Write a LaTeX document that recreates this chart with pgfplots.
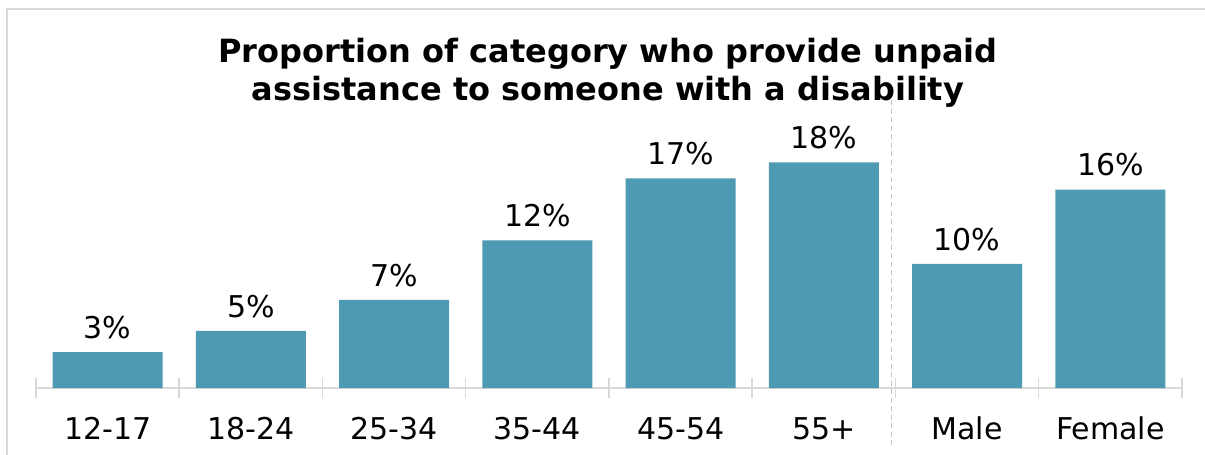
\documentclass[border=0pt]{standalone}
\usepackage{pgfplots}
\pgfplotsset{compat=1.18}
\usepackage{fontspec}
\setmainfont{DejaVu Sans}
\definecolor{barblue}{RGB}{78,154,178}
\definecolor{framegray}{RGB}{217,217,217}
\definecolor{dashgray}{RGB}{195,195,195}
\begin{document}
\begin{tikzpicture}
\useasboundingbox (0,0) rectangle (1205bp,455bp);
\draw[framegray, line width=2bp] (7bp,0) -- (7bp,446bp) -- (1205bp,446bp);
\node[anchor=base, inner sep=0pt, font=\fontsize{32bp}{38bp}\selectfont\bfseries] at (608bp,392bp) {Proportion of category who provide unpaid};
\node[anchor=base, inner sep=0pt, font=\fontsize{32bp}{38bp}\selectfont\bfseries] at (608bp,354bp) {assistance to someone with a disability};
\begin{axis}[
  at={(36bp,67bp)}, anchor=south west,
  scale only axis, width=1146bp, height=248bp,
  xmin=-0.5, xmax=7.5, ymin=0, ymax=20,
  clip=false,
  axis x line*=bottom, axis y line=none,
  x axis line style={draw=framegray, line width=1.5bp, -},
  xtick={0,...,7},
  xticklabels={12-17,18-24,25-34,35-44,45-54,55+,Male,Female},
  major tick length=0pt,
  minor xtick={-0.5,0.5,...,7.5},
  minor tick length=19bp,
  xtick align=outside,
  every minor tick/.style={draw=framegray, line width=1.5bp, yshift=9.5bp},
  xticklabel style={inner sep=0pt, anchor=north, yshift=-29bp, font=\fontsize{30bp}{36bp}\selectfont},
  /pgf/number format/assume math mode=true,
  ybar, bar width=110bp,
  nodes near coords={\pgfmathprintnumber[fixed,precision=0]{\pgfplotspointmeta}\%},
  every node near coord/.append style={inner sep=0pt, anchor=south, yshift=13bp, font=\fontsize{30bp}{36bp}\selectfont, text=black},
]
\addplot[fill=barblue, draw=none] coordinates {(0,2.9) (1,4.6) (2,7.1) (3,11.9) (4,16.9) (5,18.2) (6,10.0) (7,16.0)};
\draw[dashgray, line width=1.2bp, dash pattern=on 5bp off 3.5bp] (axis cs:5.47,23.2) -- (axis cs:5.47,-4.8);
\end{axis}
\end{tikzpicture}
\end{document}
